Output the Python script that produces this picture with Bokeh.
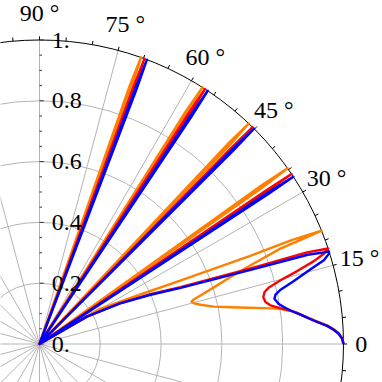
import numpy as np
from bokeh.plotting import figure
from bokeh.models import Range1d
from bokeh.embed import file_html
from bokeh.resources import INLINE
from bokeh.core.properties import value

# ---- data (polar: angle in degrees, radius) ----
orange_theta = [0, 0.98, 1.95, 2.76, 3.6, 4.9, 6.0, 7.0, 8.3, 9.1, 9.9, 10.9, 12.1, 13.7, 14.8, 15.6,
                16.1, 16.8, 18.0, 19.3, 20.3, 21.6, 21.8, 21.9,
                22.4, 22.7, 24.2, 26.2, 30.3, 32.0,
                35.05, 35.3, 35.55, 41.0,
                46.25, 46.5, 46.75, 52.0,
                57.35, 57.6, 57.85, 64.0,
                70.25, 70.5, 70.75, 76.0]
orange_r = [1.0, 0.997, 0.987, 0.972, 0.951, 0.909, 0.876, 0.852, 0.80, 0.747, 0.693, 0.64, 0.586, 0.545, 0.525, 0.519,
            0.528, 0.553, 0.603, 0.666, 0.728, 0.852, 0.96, 1.0,
            0.897, 0.749, 0.51, 0.367, 0.228, 0.0,
            0.9, 1.0, 0.9, 0.0,
            0.9, 1.0, 0.9, 0.0,
            0.9, 1.0, 0.9, 0.0,
            0.9, 1.0, 0.9, 0.0]

red_theta = [0, 0.98, 1.95, 2.76, 3.6, 4.9, 6.4, 7.6, 8.5, 9.5, 10.5, 11.8,
             13.0, 13.8, 14.8, 15.8, 16.8, 17.6, 18.3,
             18.9, 19.6, 22.0, 24.2, 27.0, 30.0, 31.0,
             33.88, 34.0, 34.12, 40.0,
             45.38, 45.5, 45.62, 51.0,
             56.88, 57.0, 57.12, 63.0,
             69.68, 69.8, 69.92, 75.0]
red_r = [1.0, 0.996, 0.985, 0.969, 0.948, 0.905, 0.864, 0.833, 0.80, 0.770, 0.756, 0.752,
         0.76, 0.776, 0.82, 0.881, 0.943, 0.981, 1.0,
         0.93, 0.75, 0.5, 0.4, 0.295, 0.18, 0.0,
         0.9, 1.0, 0.9, 0.0,
         0.9, 1.0, 0.9, 0.0,
         0.9, 1.0, 0.9, 0.0,
         0.9, 1.0, 0.9, 0.0]

blue_theta = [0, 0.98, 1.95, 2.76, 3.6, 4.9, 6.4, 7.6, 8.6, 9.5, 10.9,
              11.8, 12.7, 13.9, 15.4, 16.4, 17.3, 17.7,
              18.4, 19.3, 21.7, 23.9, 26.8, 30.0, 31.0,
              33.25, 33.4, 33.55, 39.0,
              44.95, 45.1, 45.25, 51.0,
              56.25, 56.4, 56.55, 63.0,
              69.15, 69.3, 69.45, 75.0]
blue_r = [1.0, 0.996, 0.985, 0.969, 0.948, 0.905, 0.864, 0.833, 0.813, 0.798, 0.787,
          0.793, 0.813, 0.862, 0.925, 0.975, 0.997, 1.0,
          0.93, 0.746, 0.5, 0.4, 0.295, 0.18, 0.0,
          0.9, 1.0, 0.9, 0.0,
          0.9, 1.0, 0.9, 0.0,
          0.9, 1.0, 0.9, 0.0,
          0.9, 1.0, 0.9, 0.0]

grid_radii = [0.2, 0.4, 0.6, 0.8]
angle_ticks = [0, 15, 30, 45, 60, 75, 90]
angle_labels = ["0", "15 °", "30 °", "45 °", "60 °", "75 °", "90 °"]
radial_ticks = [0.0, 0.2, 0.4, 0.6, 0.8, 1.0]
radial_labels = ["0.", "0.2", "0.4", "0.6", "0.8", "1."]

# ---- figure ----
R = 304.0
W = H = 382
ox, oy = 39.0, 343.5
p = figure(width=W, height=H, output_backend="svg", toolbar_location=None,
           x_range=Range1d(-ox / R, (W - ox) / R), y_range=Range1d((oy - H) / R, oy / R),
           min_border=0)
p.axis.visible = False
p.grid.visible = False
p.outline_line_color = None
p.background_fill_color = "white"

def xy(theta_deg, r):
    t = np.radians(np.asarray(theta_deg, dtype=float))
    r = np.asarray(r, dtype=float)
    return r * np.cos(t), r * np.sin(t)

grid_col = "#b4b4b4"
p.ellipse(x=0, y=0, width=[2 * g for g in grid_radii], height=[2 * g for g in grid_radii],
          fill_color=None, line_color=grid_col, line_width=1)
spokes = np.arange(0, 360, 15)
sx, sy = xy(spokes, np.ones_like(spokes, dtype=float))
p.segment(x0=0, y0=0, x1=sx, y1=sy, line_color=grid_col, line_width=1)

p.ellipse(x=0, y=0, width=2, height=2, fill_color=None, line_color="black", line_width=1)
tick_ang = np.arange(0, 360, 5)
t0x, t0y = xy(tick_ang, np.ones(len(tick_ang)))
t1x, t1y = xy(tick_ang, np.full(len(tick_ang), 1.012))
p.segment(x0=t0x, y0=t0y, x1=t1x, y1=t1y, line_color="black", line_width=1)

rt = np.arange(0, 1.0001, 0.05)
major = np.isclose(np.round(rt * 5), rt * 5)
tl = np.where(major, 0.014, 0.008)
p.segment(x0=0, y0=rt, x1=tl, y1=rt, line_color="#333333", line_width=1)

for th, rr, col in [(orange_theta, orange_r, "#FF8000"),
                    (red_theta, red_r, "#FF0000"),
                    (blue_theta, blue_r, "#0000FF")]:
    cx, cy = xy(th, rr)
    p.line(cx, cy, line_color=col, line_width=2.4, line_join="round")

font = value("Liberation Serif, Times New Roman, serif")
p.text(x=[0.04] * len(radial_ticks), y=radial_ticks, text=radial_labels,
       text_font=font, text_font_size="24px", text_align="left", text_baseline="middle",
       text_color="black")
lab_r = [1.058 if s == "0" else 1.09 for s in angle_labels]
lx, ly = xy(angle_ticks, lab_r)
p.text(x=lx, y=ly, text=angle_labels, text_font=font, text_font_size="24px",
       text_align="center", text_baseline="middle", text_color="black")

open("out.html", "w").write(file_html(p, INLINE))
